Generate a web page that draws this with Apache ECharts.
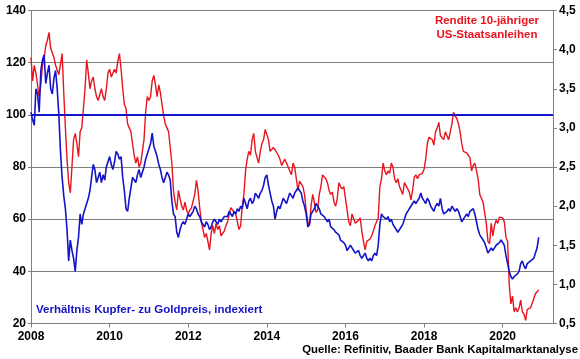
<!DOCTYPE html>
<html>
<head>
<meta charset="utf-8">
<script src="https://cdn.jsdelivr.net/npm/echarts@6/dist/echarts.min.js"></script>
<style>
html,body{margin:0;padding:0;background:#fff;}
#c{width:580px;height:359px;}
</style>
</head>
<body>
<div id="c"></div>
<script>
// Semi-monthly observations starting Jan 2008 (step = 1/24 year)
const startYear = 2008;
const xTicks = ['2008','2010','2012','2014','2016','2018','2020'];
const leftTicks = [20,40,60,80,100,120,140];
const rightTicks = ['0,5','1,0','1,5','2,0','2,5','3,0','3,5','4,0','4,5'];

// Rendite 10-jähriger US-Staatsanleihen (%), right axis
const yield10 = [
 3.90,3.60,3.80,3.70,3.55,3.40,3.55,3.80,3.88,4.05,4.12,4.22,4.02,4.00,3.90,3.80,3.78,3.68,3.70,3.95,3.45,3.00,2.60,2.30,
 2.17,2.50,2.85,2.93,2.80,2.63,2.95,3.00,3.25,3.50,3.87,3.70,3.50,3.60,3.65,3.50,3.40,3.35,3.35,3.50,3.40,3.35,3.50,3.70,
 3.75,3.65,3.65,3.75,3.70,3.85,3.95,3.75,3.50,3.30,3.25,3.05,3.00,2.95,2.80,2.65,2.55,2.63,2.50,2.55,2.70,2.85,3.20,3.40,
 3.35,3.40,3.60,3.67,3.55,3.40,3.55,3.45,3.30,3.15,3.05,3.00,2.95,2.95,2.55,2.20,2.05,1.95,2.20,2.10,2.00,1.95,2.05,1.95,
 1.90,1.95,1.98,2.00,2.15,2.33,2.20,1.98,1.80,1.70,1.60,1.65,1.55,1.44,1.65,1.75,1.65,1.78,1.70,1.75,1.62,1.65,1.68,1.75,
 1.80,1.90,1.98,1.95,1.95,1.90,1.80,1.70,1.75,2.00,2.15,2.45,2.60,2.70,2.65,2.85,2.93,2.70,2.62,2.55,2.70,2.80,2.85,2.98,
 3.00,2.85,2.70,2.68,2.75,2.72,2.70,2.65,2.60,2.52,2.50,2.60,2.55,2.50,2.45,2.40,2.55,2.50,2.35,2.20,2.32,2.30,2.25,2.15,
 1.95,1.80,1.75,2.00,2.15,2.05,1.92,1.95,2.15,2.25,2.40,2.42,2.35,2.30,2.20,2.15,2.18,2.05,2.00,2.10,2.30,2.25,2.22,2.25,
 2.10,1.95,1.80,1.75,1.90,1.88,1.78,1.80,1.82,1.85,1.68,1.55,1.44,1.55,1.55,1.58,1.62,1.68,1.75,1.80,1.85,2.25,2.35,2.55,
 2.45,2.40,2.45,2.42,2.55,2.50,2.35,2.30,2.35,2.25,2.20,2.15,2.30,2.30,2.22,2.18,2.08,2.20,2.37,2.40,2.35,2.40,2.38,2.42,
 2.47,2.60,2.80,2.88,2.90,2.85,2.78,2.95,3.00,3.07,2.90,2.92,2.85,2.95,2.90,2.85,2.95,3.05,3.20,3.15,3.12,3.05,2.95,2.80,
 2.70,2.72,2.68,2.65,2.62,2.45,2.52,2.55,2.45,2.35,2.15,2.10,2.05,2.05,1.78,1.55,1.52,1.78,1.62,1.75,1.82,1.78,1.86,1.88,
 1.85,1.80,1.60,1.55,1.00,0.75,0.85,0.65,0.70,0.65,0.70,0.80,0.65,0.62,0.54,0.68,0.67,0.70,0.76,0.82,0.88,0.87,0.93
];

// Verhältnis Kupfer- zu Goldpreis, indexiert, left axis
const copperGold = [
 101,98,96,110,108,101,117,121,123,112,116,119,110,108,114,117,110,100,86,76,69,64,56,44,
 52,48,45,40,48,53,62,58,62,64,66,68,71,76,81,79,74,76,78,74,77,75,80,82,
 84,81,79,82,86,85,83,84,76,71,64,63,68,72,76,75,74,77,79,76,78,80,83,85,
 87,89,93,88,86,84,81,79,76,74,76,78,77,75,67,62,61,55,53,56,58,59,58,60,
 62,61,62,63,65,64,62,61,59,58,57,59,58,56,57,59,60,59,58,60,59,60,61,61,
 61,63,62,61,63,62,64,63,65,64,68,66,64,67,68,66,67,70,69,68,70,71,73,76,
 77,73,70,67,65,60,63,65,64,66,68,67,66,68,70,69,68,70,71,72,72,70,67,65,
 62,57,58,62,63,64,66,65,64,62,62,61,60,59,60,57,57,56,55,55,54,52,52,51,
 50,48,49,50,49,48,47,47,48,46,45,46,47,45,44,45,44,46,47,46,50,58,62,61,
 61,60,61,59,60,58,57,57,55,56,57,58,60,62,63,64,64,66,67,66,67,68,70,68,
 67,66,68,67,65,64,63,65,66,65,68,64,62,62,63,64,63,65,64,63,64,63,61,59,
 60,61,62,61,63,63,64,62,59,56,54,53,52,51,49,47,48,49,48,49,50,50,51,52,
 52,50,46,43,40,38,37,38,38,39,40,43,44,42,41,43,43,44,44,45,47,49,53
];

const FONT = '"Liberation Sans", Arial, sans-serif';
const BLUE = '#1414c8';
const RED = '#e8141e';

const redData = yield10.map((v, i) => [startYear + i / 24, v]);
const blueData = copperGold.map((v, i) => [startYear + i / 24, v]);

const chart = echarts.init(document.getElementById('c'), null, {renderer: 'canvas'});
chart.setOption({
  animation: false,
  backgroundColor: '#ffffff',
  grid: {left: 31, right: 27, top: 10.5, bottom: 35.5, containLabel: false},
  xAxis: {
    type: 'value', min: 2008, max: 2021.28, interval: 2,
    axisLine: {show: true, lineStyle: {color: '#808080', width: 1}},
    axisTick: {show: true, length: 4, lineStyle: {color: '#808080'}},
    splitLine: {show: false},
    axisLabel: {
      showMaxLabel: false, margin: 7,
      color: '#000', fontFamily: FONT, fontWeight: 'bold', fontSize: 12,
      formatter: v => { const s = String(Math.round(v)); return xTicks.indexOf(s) >= 0 ? s : ''; }
    }
  },
  yAxis: [
    {
      type: 'value', min: 20, max: 140, interval: 20, position: 'left',
      axisLine: {show: true, lineStyle: {color: '#808080', width: 1}},
      axisTick: {show: true, length: 3, lineStyle: {color: '#808080'}},
      splitLine: {show: true, lineStyle: {color: '#808080', width: 1}},
      axisLabel: {
        color: '#000', fontFamily: FONT, fontWeight: 'bold', fontSize: 12, margin: 5,
        formatter: v => (leftTicks.indexOf(v) >= 0 ? String(v) : '')
      }
    },
    {
      type: 'value', min: 0.5, max: 4.5, interval: 0.5, position: 'right',
      axisLine: {show: true, lineStyle: {color: '#808080', width: 1}},
      axisTick: {show: true, length: 4, lineStyle: {color: '#808080'}},
      splitLine: {show: false},
      axisLabel: {
        color: '#000', fontFamily: FONT, fontWeight: 'bold', fontSize: 12, margin: 6,
        formatter: v => { const s = v.toFixed(1).replace('.', ','); return rightTicks.indexOf(s) >= 0 ? s : ''; }
      }
    }
  ],
  series: [
    {
      name: 'Rendite', type: 'line', yAxisIndex: 1, data: redData,
      showSymbol: false, symbol: 'none', z: 2,
      lineStyle: {color: RED, width: 1.4}
    },
    {
      name: 'Kupfer/Gold', type: 'line', yAxisIndex: 0, data: blueData,
      showSymbol: false, symbol: 'none', z: 3,
      lineStyle: {color: BLUE, width: 1.6},
      markLine: {
        silent: true, symbol: ['none', 'none'], label: {show: false},
        lineStyle: {color: BLUE, width: 2, type: 'solid'},
        data: [{yAxis: 100}]
      }
    }
  ],
  graphic: [
    {type: 'text', left: 36, top: 304, style: {
      text: 'Verhältnis Kupfer- zu Goldpreis, indexiert',
      fill: BLUE, font: 'bold 11.5px ' + FONT}},
    {type: 'text', x: 487, y: 15, style: {
      text: 'Rendite 10-jähriger', align: 'center',
      fill: RED, font: 'bold 11.5px ' + FONT}},
    {type: 'text', x: 487, y: 29, style: {
      text: 'US-Staatsanleihen', align: 'center',
      fill: RED, font: 'bold 11.5px ' + FONT}},
    {type: 'text', right: 2, top: 344, style: {
      text: 'Quelle: Refinitiv, Baader Bank Kapitalmarktanalyse',
      fill: '#000', font: 'bold 11.4px ' + FONT}}
  ]
});
</script>
</body>
</html>
